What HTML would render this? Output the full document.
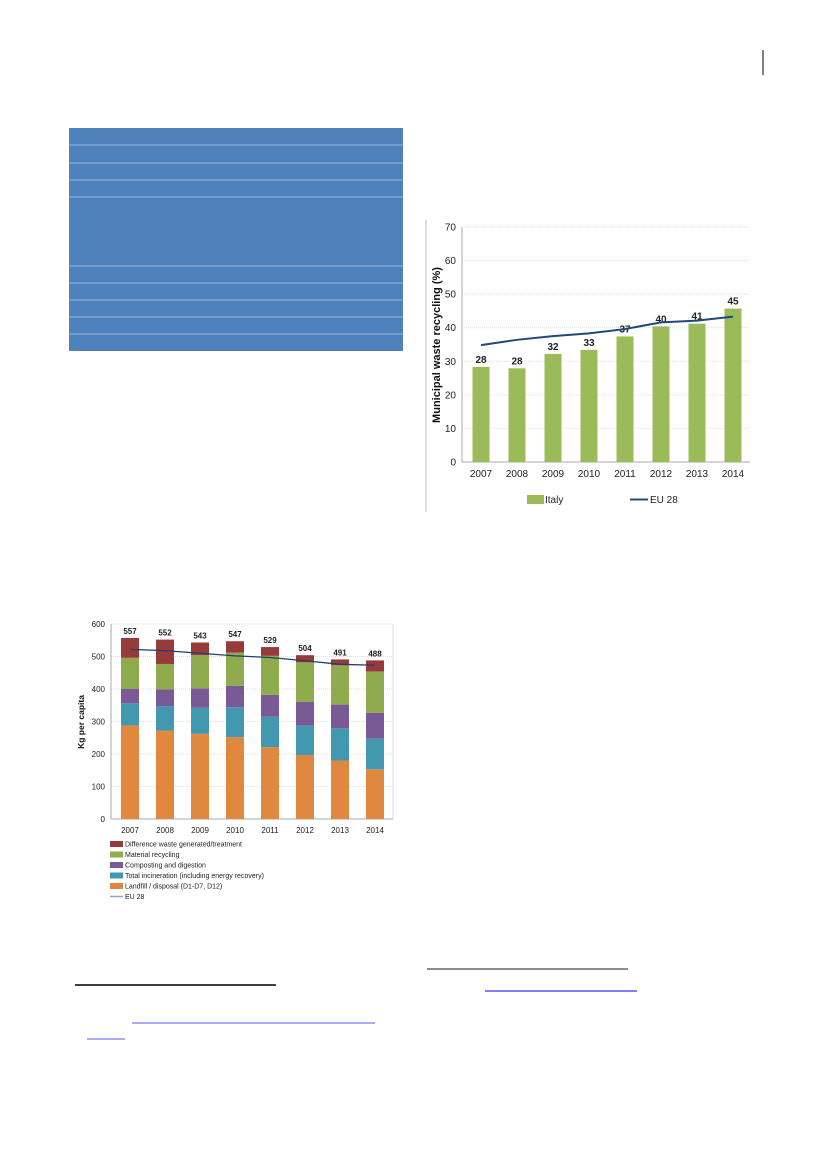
<!DOCTYPE html>
<html><head><meta charset="utf-8"><style>
body{margin:0;background:#fff;font-family:"Liberation Sans",sans-serif}
#page{position:relative;width:827px;height:1169px;overflow:hidden;background:#fff}
svg{position:absolute;left:0;top:0}
</style></head><body>
<div id="page">
<svg id="s" width="827" height="1169">
<line x1="763" y1="50" x2="763" y2="75" stroke="#000" stroke-width="1"/>
<g>
<rect x="69" y="128" width="334" height="223" fill="#4f81bd"/>
</g>
<line x1="426" y1="220" x2="426" y2="512" stroke="#bbb"/>
<line x1="75" y1="985" x2="276" y2="985" stroke="#000" stroke-width="1.5"/>
<line x1="427" y1="969" x2="628" y2="969" stroke="#666" stroke-width="1.5"/>
<line x1="485" y1="991" x2="637" y2="991" stroke="#00f" stroke-width="1"/>
<line x1="132" y1="1023" x2="375" y2="1023" stroke="#55f" stroke-width="1"/>
<line x1="87" y1="1039" x2="125" y2="1039" stroke="#55f" stroke-width="1"/>
</svg>
</div>
<script>
const NS="http://www.w3.org/2000/svg";
const svg=document.getElementById('s');
function mk(tag,attrs,parent){const e=document.createElementNS(NS,tag);for(const k in attrs)e.setAttribute(k,attrs[k]);(parent||svg).appendChild(e);return e;}
// table rows
const rowYs=[145,163,180,197,266,283,300,317,334];
rowYs.forEach(y=>{const l=mk('line',{x1:69,x2:403,y1:y,y2:y,stroke:'#9bb8dd','stroke-width':1});

});

// ---------- Chart 1: recycling % ----------
const years=["2007","2008","2009","2010","2011","2012","2013","2014"];
const italyVals=[28.3,27.9,32.2,33.4,37.4,40.4,41.2,45.7];
const italyLabels=["28","28","32","33","37","40","41","45"];
const euVals=[34.8,36.4,37.5,38.3,39.6,41.6,42.1,43.3];
const pctTicks=[0,10,20,30,40,50,60,70];

const c1={x0:462,x1:750,y0:462,pxPer:33.57/10,first:481,step:36};
const y1=v=>c1.y0-v*c1.pxPer, x1=i=>c1.first+i*c1.step;
const g1=mk('g',{});


pctTicks.forEach(t=>{
  if(t>0){const gl=mk('line',{x1:c1.x0,x2:c1.x1,y1:y1(t),y2:y1(t),stroke:'#ddd','stroke-dasharray':'1,1'},g1);
  }
  const tx=mk('text',{x:c1.x0-6,y:y1(t)+3.5,'text-anchor':'end','font-size':10,fill:'#222'},g1);tx.textContent=t;
  
});
let ax=mk('line',{x1:c1.x0,x2:c1.x0,y1:y1(70),y2:c1.y0,stroke:'#aaa'},g1);

ax=mk('line',{x1:c1.x0,x2:c1.x1,y1:c1.y0,y2:c1.y0,stroke:'#aaa'},g1);

italyVals.forEach((v,i)=>{
  const b=mk('rect',{x:x1(i)-8.5,y:y1(v),width:17,height:c1.y0-y1(v),fill:'#9bbb59'},g1);
  
  const t=mk('text',{x:x1(i),y:y1(v)-4,'text-anchor':'middle','font-size':10,'font-weight':'bold',fill:'#222'},g1);t.textContent=italyLabels[i];
  
  const yl=mk('text',{x:x1(i),y:477,'text-anchor':'middle','font-size':10,fill:'#222'},g1);yl.textContent=years[i];
  
});
const eu1=mk('polyline',{points:euVals.map((v,i)=>x1(i)+','+y1(v)).join(' '),fill:'none',stroke:'#1f497d','stroke-width':2},g1);

const yt=mk('text',{x:0,y:0,transform:'translate(440,345) rotate(-90)','text-anchor':'middle','font-size':11,'font-weight':'bold',fill:'#111'},g1);
yt.textContent='Municipal waste recycling  (%)';

let lr=mk('rect',{x:527,y:495,width:17,height:9,fill:'#9bbb59'},g1);

let lt=mk('text',{x:545,y:503,'font-size':10,fill:'#222'},g1);lt.textContent='Italy';

lr=mk('line',{x1:630,x2:648,y1:499.5,y2:499.5,stroke:'#1f497d','stroke-width':2},g1);

lt=mk('text',{x:650,y:503,'font-size':10,fill:'#222'},g1);lt.textContent='EU 28';


// ---------- Chart 2: kg per capita ----------
const landfill=[288,272,262,252,221,197,180,153];
const incineration=[68,75,80,92,94,91,99,94];
const composting=[45,52,60,66,67,72,73,80];
const recycling=[95,78,102,102,120,122,121,127];
const difference=[61,75,39,35,27,22,18,34];
const totals=["557","552","543","547","529","504","491","488"];
const euKg=[522,518,510,502,497,487,476,473];
const kgTicks=[0,100,200,300,400,500,600];
const seriesNames=["Landfill / disposal (D1-D7, D12)","Total incineration (including energy recovery)","Composting and digestion","Material recycling","Difference waste generated/treatment"];
const seriesKeys=["landfill","incineration","composting","recycling","difference"];
const seriesColors=["#e0883f","#4198af","#7a5a96","#8eab4e","#983a3a"];
const series=[landfill,incineration,composting,recycling,difference];

const c2={x0:111,x1:393,y0:819,pxPer:195/600,first:130,step:35};
const y2=v=>c2.y0-v*c2.pxPer, x2=i=>c2.first+i*c2.step;
const g2=mk('g',{});


kgTicks.forEach(t=>{
  if(t>0){const gl=mk('line',{x1:c2.x0,x2:c2.x1,y1:y2(t),y2:y2(t),stroke:'#ddd','stroke-dasharray':'1,1'},g2);
  }
  const tx=mk('text',{x:c2.x0-6,y:y2(t)+3,'text-anchor':'end','font-size':8,fill:'#222'},g2);tx.textContent=t;
  
});
ax=mk('line',{x1:c2.x0,x2:c2.x0,y1:y2(600),y2:c2.y0,stroke:'#aaa'},g2);

ax=mk('line',{x1:c2.x0,x2:c2.x1,y1:c2.y0,y2:c2.y0,stroke:'#aaa'},g2);

ax=mk('line',{x1:c2.x1,x2:c2.x1,y1:y2(600),y2:c2.y0,stroke:'#ddd'},g2);

years.forEach((yr,i)=>{
  let acc=0;
  series.forEach((s,k)=>{
    const r=mk('rect',{x:x2(i)-9,y:y2(acc+s[i]),width:18,height:s[i]*c2.pxPer,fill:seriesColors[k]},g2);
    
    
    acc+=s[i];
  });
  const t=mk('text',{x:x2(i),y:y2(acc)-4,'text-anchor':'middle','font-size':8,'font-weight':'bold',fill:'#222'},g2);t.textContent=totals[i];
  
  const yl=mk('text',{x:x2(i),y:833,'text-anchor':'middle','font-size':8,fill:'#222'},g2);yl.textContent=yr;
  
});
const eu2=mk('polyline',{points:euKg.map((v,i)=>x2(i)+','+y2(v)).join(' '),fill:'none',stroke:'#1f3f6d','stroke-width':1.3},g2);

const yt2=mk('text',{x:0,y:0,transform:'translate(84,722) rotate(-90)','text-anchor':'middle','font-size':8.5,'font-weight':'bold',fill:'#111'},g2);
yt2.textContent='Kg per capita';

const legOrder=[4,3,2,1,0];
const legYs=[844,854.5,865,875.5,886];
legOrder.forEach((k,j)=>{
  const r=mk('rect',{x:110,y:legYs[j]-3,width:13,height:6,fill:seriesColors[k]},g2);
  
  const t=mk('text',{x:125,y:legYs[j]+2.5,'font-size':7,fill:'#222'},g2);t.textContent=seriesNames[k];
  
});
lr=mk('line',{x1:110,x2:123,y1:896.5,y2:896.5,stroke:'#8ea4c0','stroke-width':1.5},g2);

lt=mk('text',{x:125,y:899,'font-size':7,fill:'#222'},g2);lt.textContent='EU 28';

</script>
</body></html>
